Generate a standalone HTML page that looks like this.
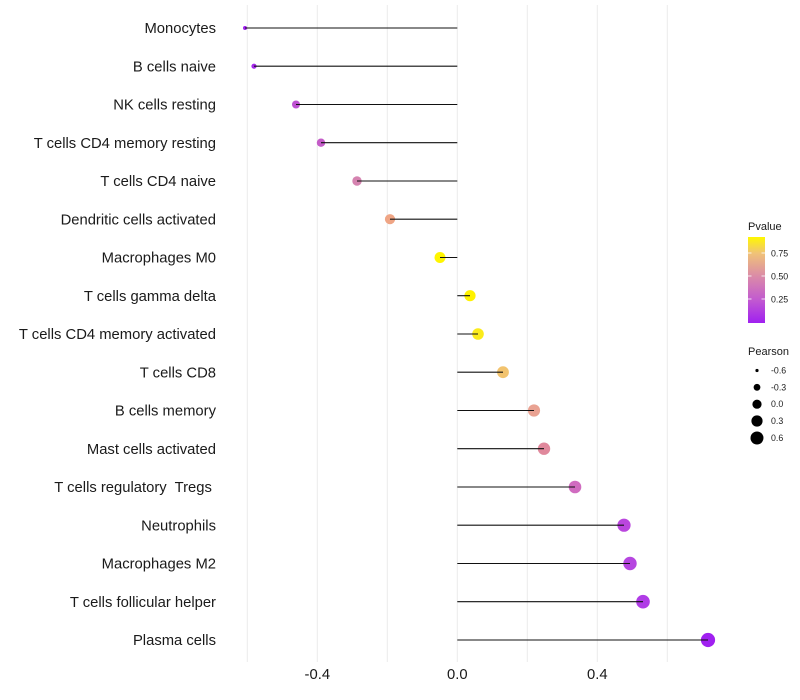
<!DOCTYPE html>
<html><head><meta charset="utf-8"><style>
html,body{margin:0;padding:0;background:#fff;}
svg{display:block;font-family:"Liberation Sans",Arial,sans-serif;}
.pre{white-space:pre;}
</style></head><body>
<svg width="800" height="700" viewBox="0 0 800 700" xmlns="http://www.w3.org/2000/svg">
<defs>
<linearGradient id="g" x1="0" y1="1" x2="0" y2="0">
<stop offset="0" stop-color="#A020F0"/>
<stop offset="0.27" stop-color="#C25AD0"/>
<stop offset="0.54" stop-color="#DA8AA8"/>
<stop offset="0.81" stop-color="#F0C278"/>
<stop offset="1" stop-color="#FFF800"/>
</linearGradient>
</defs>
<rect width="800" height="700" fill="#fff"/>
<g stroke="#EBEBEB" stroke-width="1">
<line x1="247.3" y1="5" x2="247.3" y2="662"/>
<line x1="317.3" y1="5" x2="317.3" y2="662"/>
<line x1="387.3" y1="5" x2="387.3" y2="662"/>
<line x1="457.3" y1="5" x2="457.3" y2="662"/>
<line x1="527.3" y1="5" x2="527.3" y2="662"/>
<line x1="597.3" y1="5" x2="597.3" y2="662"/>
<line x1="667.3" y1="5" x2="667.3" y2="662"/>
</g>
<g>
<circle cx="245" cy="28" r="2" fill="#A020F0"/>
<circle cx="254" cy="66.2" r="2.6" fill="#A52AEB"/>
<circle cx="296" cy="104.5" r="4" fill="#BE50D2"/>
<circle cx="321" cy="142.7" r="4.2" fill="#C45CC8"/>
<circle cx="357" cy="181" r="4.7" fill="#D583B0"/>
<circle cx="390" cy="219.2" r="5.1" fill="#EFA585"/>
<circle cx="440" cy="257.5" r="5.5" fill="#FFF500"/>
<circle cx="470" cy="295.7" r="5.6" fill="#FFF200"/>
<circle cx="478" cy="334" r="5.8" fill="#FBEB1A"/>
<circle cx="503" cy="372.2" r="5.9" fill="#F2C36E"/>
<circle cx="534" cy="410.5" r="6.1" fill="#E9A292"/>
<circle cx="544" cy="448.7" r="6.2" fill="#E0889C"/>
<circle cx="575" cy="487" r="6.3" fill="#D06CC0"/>
<circle cx="624" cy="525.2" r="6.6" fill="#BA46DE"/>
<circle cx="630" cy="563.5" r="6.7" fill="#B646E0"/>
<circle cx="643" cy="601.7" r="6.8" fill="#B03CE6"/>
<circle cx="708" cy="640" r="7.1" fill="#A020F0"/>
</g>
<g stroke="#111" stroke-width="1.1">
<line x1="457.3" y1="28" x2="245" y2="28"/>
<line x1="457.3" y1="66.2" x2="254" y2="66.2"/>
<line x1="457.3" y1="104.5" x2="296" y2="104.5"/>
<line x1="457.3" y1="142.7" x2="321" y2="142.7"/>
<line x1="457.3" y1="181" x2="357" y2="181"/>
<line x1="457.3" y1="219.2" x2="390" y2="219.2"/>
<line x1="457.3" y1="257.5" x2="440" y2="257.5"/>
<line x1="457.3" y1="295.7" x2="470" y2="295.7"/>
<line x1="457.3" y1="334" x2="478" y2="334"/>
<line x1="457.3" y1="372.2" x2="503" y2="372.2"/>
<line x1="457.3" y1="410.5" x2="534" y2="410.5"/>
<line x1="457.3" y1="448.7" x2="544" y2="448.7"/>
<line x1="457.3" y1="487" x2="575" y2="487"/>
<line x1="457.3" y1="525.2" x2="624" y2="525.2"/>
<line x1="457.3" y1="563.5" x2="630" y2="563.5"/>
<line x1="457.3" y1="601.7" x2="643" y2="601.7"/>
<line x1="457.3" y1="640" x2="708" y2="640"/>
</g>
<g font-size="14.8" fill="#1a1a1a" text-anchor="end" class="pre">
<text x="216" y="33.2">Monocytes</text>
<text x="216" y="71.4">B cells naive</text>
<text x="216" y="109.7">NK cells resting</text>
<text x="216" y="147.9">T cells CD4 memory resting</text>
<text x="216" y="186.2">T cells CD4 naive</text>
<text x="216" y="224.4">Dendritic cells activated</text>
<text x="216" y="262.7">Macrophages M0</text>
<text x="216" y="300.9">T cells gamma delta</text>
<text x="216" y="339.2">T cells CD4 memory activated</text>
<text x="216" y="377.4">T cells CD8</text>
<text x="216" y="415.7">B cells memory</text>
<text x="216" y="453.9">Mast cells activated</text>
<text x="216" y="492.2" class="pre">T cells regulatory  Tregs </text>
<text x="216" y="530.4">Neutrophils</text>
<text x="216" y="568.7">Macrophages M2</text>
<text x="216" y="606.9">T cells follicular helper</text>
<text x="216" y="645.2">Plasma cells</text>
</g>
<g font-size="14.8" fill="#1a1a1a" text-anchor="middle">
<text x="317.3" y="679">-0.4</text>
<text x="457.3" y="679">0.0</text>
<text x="597.3" y="679">0.4</text>
</g>
<text x="748" y="230" font-size="11" fill="#1a1a1a">Pvalue</text>
<rect x="748" y="237" width="17" height="86" fill="url(#g)"/>
<g stroke="#fff" stroke-width="1" opacity="0.8">
<line x1="748" y1="253" x2="751.5" y2="253"/><line x1="761.5" y1="253" x2="765" y2="253"/>
<line x1="748" y1="276" x2="751.5" y2="276"/><line x1="761.5" y1="276" x2="765" y2="276"/>
<line x1="748" y1="299" x2="751.5" y2="299"/><line x1="761.5" y1="299" x2="765" y2="299"/>
</g>
<g font-size="8.8" fill="#1a1a1a">
<text x="771" y="256.5">0.75</text>
<text x="771" y="279.5">0.50</text>
<text x="771" y="302.5">0.25</text>
</g>
<text x="748" y="355" font-size="11" fill="#1a1a1a">Pearson</text>
<g fill="#000">
<circle cx="757" cy="370.5" r="1.6"/>
<circle cx="757" cy="387.3" r="3.4"/>
<circle cx="757" cy="404.2" r="4.6"/>
<circle cx="757" cy="421" r="5.6"/>
<circle cx="757" cy="438" r="6.5"/>
</g>
<g font-size="8.8" fill="#1a1a1a">
<text x="771" y="373.5">-0.6</text>
<text x="771" y="390.3">-0.3</text>
<text x="771" y="407.2">0.0</text>
<text x="771" y="424">0.3</text>
<text x="771" y="441">0.6</text>
</g>
</svg>
</body></html>
